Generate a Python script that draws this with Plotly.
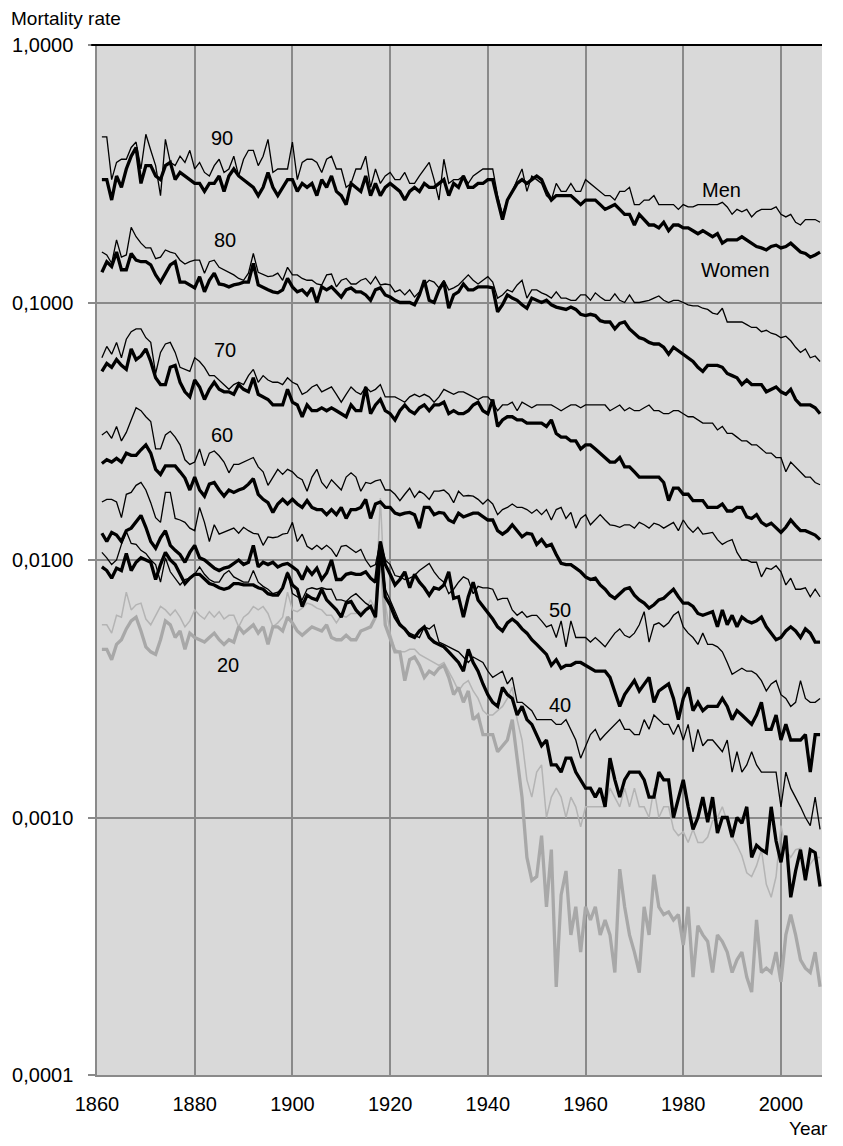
import math
import plotly.graph_objects as go

years = list(range(1861, 2009))

men_90 = [
    0.44, 0.44, 0.30, 0.35, 0.36, 0.36, 0.40, 0.42, 0.33, 0.45,
    0.39, 0.34, 0.26, 0.43, 0.35, 0.34, 0.37, 0.35, 0.39, 0.33,
    0.35, 0.32, 0.31, 0.34, 0.36, 0.32, 0.33, 0.37, 0.31, 0.36,
    0.39, 0.39, 0.34, 0.37, 0.43, 0.32, 0.33, 0.33, 0.33, 0.42,
    0.30, 0.35, 0.36, 0.36, 0.35, 0.32, 0.36, 0.37, 0.33, 0.33,
    0.28, 0.29, 0.33, 0.33, 0.37, 0.28, 0.33, 0.29, 0.31, 0.32,
    0.30, 0.30, 0.32, 0.29, 0.29, 0.31, 0.33, 0.35, 0.30, 0.25,
    0.36, 0.29, 0.30, 0.30, 0.31, 0.29, 0.31, 0.32, 0.33, 0.33,
    0.33, 0.26, 0.22, 0.25, 0.27, 0.30, 0.33, 0.27, 0.31, 0.30,
    0.29, 0.26, 0.25, 0.29, 0.27, 0.27, 0.29, 0.27, 0.27, 0.30,
    0.29, 0.28, 0.27, 0.26, 0.26, 0.25, 0.27, 0.27, 0.28, 0.24,
    0.24, 0.25, 0.25, 0.26, 0.24, 0.24, 0.24, 0.24, 0.23, 0.24,
    0.235, 0.235, 0.24, 0.24, 0.24, 0.24, 0.24, 0.245, 0.235, 0.22,
    0.23, 0.225, 0.23, 0.215, 0.225, 0.23, 0.23, 0.23, 0.235, 0.22,
    0.215, 0.22, 0.205, 0.20, 0.21, 0.21, 0.21, 0.205,
]

women_90 = [
    0.30, 0.30, 0.25, 0.31, 0.28, 0.33, 0.37, 0.40, 0.29, 0.34,
    0.34, 0.31, 0.30, 0.34, 0.35, 0.30, 0.32, 0.31, 0.30, 0.29,
    0.29, 0.27, 0.29, 0.29, 0.31, 0.27, 0.31, 0.33, 0.31, 0.30,
    0.29, 0.28, 0.26, 0.28, 0.32, 0.28, 0.26, 0.28, 0.30, 0.30,
    0.27, 0.29, 0.28, 0.29, 0.26, 0.30, 0.28, 0.31, 0.27, 0.26,
    0.24, 0.29, 0.28, 0.27, 0.31, 0.26, 0.29, 0.26, 0.28, 0.29,
    0.28, 0.27, 0.25, 0.27, 0.28, 0.27, 0.29, 0.28, 0.28, 0.29,
    0.30, 0.26, 0.29, 0.28, 0.31, 0.28, 0.28, 0.29, 0.29, 0.30,
    0.30, 0.25, 0.21, 0.25, 0.27, 0.29, 0.30, 0.29, 0.30, 0.31,
    0.30, 0.27, 0.25, 0.26, 0.26, 0.26, 0.26, 0.25, 0.24, 0.25,
    0.25, 0.25, 0.24, 0.23, 0.235, 0.24, 0.23, 0.22, 0.22, 0.20,
    0.22, 0.21, 0.20, 0.20, 0.195, 0.205, 0.19, 0.20, 0.20, 0.195,
    0.195, 0.19, 0.185, 0.19, 0.185, 0.18, 0.185, 0.17, 0.175, 0.175,
    0.175, 0.18, 0.175, 0.17, 0.165, 0.163, 0.16, 0.165, 0.167, 0.163,
    0.165, 0.17, 0.163, 0.157, 0.155, 0.15, 0.153, 0.157,
]

men_80 = [
    0.157, 0.153, 0.142, 0.175, 0.15, 0.153, 0.196, 0.18, 0.17, 0.163,
    0.163, 0.148, 0.15, 0.16, 0.157, 0.155, 0.146, 0.141, 0.144, 0.146,
    0.146, 0.13, 0.144, 0.146, 0.137, 0.134, 0.131, 0.128, 0.124, 0.122,
    0.13, 0.155, 0.131, 0.128, 0.126, 0.127, 0.13, 0.122, 0.137, 0.128,
    0.128, 0.124, 0.122, 0.122, 0.118, 0.117, 0.128, 0.129, 0.115, 0.122,
    0.124, 0.118, 0.118, 0.122, 0.124, 0.118, 0.126, 0.117, 0.118, 0.117,
    0.11, 0.112, 0.107, 0.112, 0.105, 0.11, 0.117, 0.122, 0.12, 0.114,
    0.122, 0.112, 0.114, 0.117, 0.122, 0.128, 0.122, 0.118, 0.122, 0.126,
    0.12, 0.104, 0.107, 0.112, 0.11, 0.117, 0.122, 0.104, 0.112, 0.112,
    0.109, 0.107, 0.104, 0.11, 0.104, 0.104, 0.102, 0.102, 0.107, 0.107,
    0.102, 0.109, 0.105, 0.102, 0.102, 0.108, 0.102, 0.10, 0.107, 0.10,
    0.10, 0.101, 0.102, 0.104, 0.106, 0.102, 0.10, 0.102, 0.102, 0.10,
    0.098, 0.097, 0.097, 0.095, 0.094, 0.091, 0.09, 0.095, 0.084, 0.084,
    0.084, 0.084, 0.082, 0.08, 0.08, 0.077, 0.078, 0.076, 0.075, 0.073,
    0.074, 0.071, 0.067, 0.064, 0.066, 0.061, 0.062, 0.059,
]

women_80 = [
    0.131, 0.144, 0.138, 0.157, 0.134, 0.134, 0.155, 0.146, 0.144, 0.144,
    0.14, 0.128, 0.12, 0.13, 0.14, 0.144, 0.12, 0.12, 0.117, 0.114,
    0.126, 0.11, 0.122, 0.13, 0.118, 0.117, 0.115, 0.117, 0.118, 0.12,
    0.12, 0.142, 0.117, 0.114, 0.112, 0.11, 0.109, 0.112, 0.124, 0.115,
    0.11, 0.112, 0.107, 0.114, 0.10, 0.115, 0.112, 0.115, 0.11, 0.105,
    0.112, 0.114, 0.11, 0.11, 0.107, 0.102, 0.112, 0.114, 0.107, 0.105,
    0.102, 0.10, 0.10, 0.10, 0.098, 0.107, 0.122, 0.102, 0.10, 0.112,
    0.12, 0.095, 0.107, 0.11, 0.118, 0.112, 0.112, 0.115, 0.115, 0.115,
    0.114, 0.092, 0.098, 0.107, 0.104, 0.102, 0.098, 0.095, 0.104, 0.102,
    0.10, 0.102, 0.098, 0.096, 0.095, 0.094, 0.096, 0.094, 0.09, 0.089,
    0.09, 0.089, 0.085, 0.084, 0.084, 0.079, 0.083, 0.084, 0.079, 0.076,
    0.073, 0.072, 0.07, 0.069, 0.069, 0.067, 0.063, 0.067, 0.065, 0.063,
    0.061, 0.059, 0.056, 0.054, 0.057, 0.057, 0.057, 0.056, 0.053, 0.052,
    0.051, 0.048, 0.05, 0.048, 0.048, 0.048, 0.045, 0.046, 0.047, 0.045,
    0.044, 0.046, 0.042, 0.04, 0.04, 0.04, 0.039, 0.037,
]

men_70 = [
    0.061, 0.0675, 0.063, 0.07, 0.061, 0.072, 0.077, 0.079, 0.079, 0.073,
    0.07, 0.053, 0.064, 0.069, 0.07, 0.064, 0.056, 0.055, 0.054, 0.061,
    0.059, 0.056, 0.052, 0.052, 0.05, 0.048, 0.046, 0.048, 0.049, 0.048,
    0.052, 0.055, 0.049, 0.052, 0.05, 0.049, 0.049, 0.048, 0.051, 0.049,
    0.048, 0.044, 0.045, 0.047, 0.048, 0.045, 0.046, 0.047, 0.044, 0.041,
    0.044, 0.047, 0.045, 0.044, 0.047, 0.045, 0.046, 0.048, 0.043, 0.043,
    0.043, 0.042, 0.041, 0.043, 0.044, 0.043, 0.044, 0.043, 0.041, 0.043,
    0.046, 0.045, 0.044, 0.045, 0.045, 0.044, 0.043, 0.042, 0.043, 0.043,
    0.041, 0.038, 0.04, 0.04, 0.041, 0.038, 0.041, 0.04, 0.039, 0.04,
    0.04, 0.04, 0.04, 0.039, 0.038, 0.039, 0.04, 0.04, 0.039, 0.04,
    0.04, 0.04, 0.04, 0.04, 0.038, 0.039, 0.04, 0.038, 0.039, 0.038,
    0.038, 0.039, 0.04, 0.038, 0.038, 0.037, 0.037, 0.038, 0.038, 0.037,
    0.036, 0.036, 0.035, 0.034, 0.034, 0.034, 0.032, 0.033, 0.031, 0.031,
    0.03, 0.029, 0.029, 0.028, 0.028, 0.027, 0.026, 0.026, 0.025, 0.025,
    0.022, 0.024, 0.023, 0.022, 0.021, 0.021, 0.02, 0.0196,
]

women_70 = [
    0.054, 0.058, 0.056, 0.06, 0.057, 0.055, 0.066, 0.06, 0.062, 0.066,
    0.059, 0.051, 0.048, 0.048, 0.056, 0.057, 0.049, 0.045, 0.043, 0.05,
    0.047, 0.042, 0.046, 0.049, 0.046, 0.045, 0.045, 0.044, 0.048, 0.046,
    0.045, 0.051, 0.044, 0.043, 0.042, 0.04, 0.04, 0.04, 0.046, 0.041,
    0.04, 0.036, 0.04, 0.038, 0.038, 0.039, 0.038, 0.039, 0.038, 0.037,
    0.036, 0.04, 0.038, 0.038, 0.047, 0.037, 0.04, 0.042, 0.038, 0.037,
    0.035, 0.038, 0.04, 0.038, 0.037, 0.039, 0.04, 0.038, 0.04, 0.04,
    0.041, 0.037, 0.038, 0.037, 0.037, 0.038, 0.04, 0.041, 0.038, 0.037,
    0.042, 0.033, 0.035, 0.036, 0.036, 0.035, 0.035, 0.034, 0.034, 0.034,
    0.034, 0.033, 0.035, 0.031, 0.03, 0.03, 0.029, 0.029, 0.027, 0.028,
    0.028, 0.027, 0.026, 0.025, 0.024, 0.024, 0.025, 0.023, 0.023, 0.022,
    0.021, 0.021, 0.021, 0.021, 0.021, 0.02, 0.017, 0.019, 0.019, 0.018,
    0.018, 0.017, 0.017, 0.017, 0.016, 0.016, 0.016, 0.0165, 0.0155, 0.0155,
    0.016, 0.016, 0.0147, 0.0145, 0.015, 0.014, 0.0136, 0.0139, 0.0134, 0.0128,
    0.0134, 0.0143, 0.0136, 0.013, 0.013, 0.0127, 0.0125, 0.012,
]

men_60 = [
    0.0306, 0.0316, 0.0297, 0.033, 0.029, 0.0313, 0.035, 0.039, 0.038, 0.036,
    0.0345, 0.027, 0.027, 0.0306, 0.0316, 0.03, 0.028, 0.0245, 0.0235, 0.024,
    0.027, 0.0232, 0.026, 0.0265, 0.0254, 0.024, 0.0218, 0.0235, 0.0235, 0.024,
    0.0245, 0.025, 0.023, 0.022, 0.0195, 0.021, 0.0225, 0.0215, 0.0225, 0.022,
    0.021, 0.0205, 0.0185, 0.021, 0.0225, 0.02, 0.019, 0.0205, 0.0195, 0.0187,
    0.021, 0.0218, 0.021, 0.0185, 0.02, 0.0198, 0.0203, 0.0205, 0.0187, 0.0187,
    0.018, 0.017, 0.018, 0.019, 0.0175, 0.0185, 0.018, 0.0172, 0.0185, 0.0185,
    0.0187, 0.018, 0.0167, 0.0185, 0.0177, 0.0178, 0.0177, 0.0172, 0.0165, 0.0172,
    0.0165, 0.015, 0.0157, 0.016, 0.0165, 0.016, 0.016, 0.0157, 0.0152, 0.0157,
    0.015, 0.0157, 0.0143, 0.0157, 0.016, 0.0145, 0.0153, 0.0133, 0.0145, 0.015,
    0.0137, 0.0143, 0.015, 0.0143, 0.0137, 0.0136, 0.0134, 0.0137, 0.0137, 0.0133,
    0.014, 0.0137, 0.0133, 0.0139, 0.0137, 0.0133, 0.0136, 0.014, 0.013, 0.0143,
    0.0134, 0.0128, 0.0134, 0.0126, 0.0127, 0.0128, 0.012, 0.0115, 0.0118, 0.012,
    0.0107, 0.01, 0.01, 0.0098, 0.0098, 0.0086, 0.0093, 0.0092, 0.0095, 0.009,
    0.008, 0.0085, 0.0077, 0.0077, 0.0078, 0.0072, 0.0077, 0.0072,
]

women_60 = [
    0.0237, 0.0245, 0.024, 0.0248, 0.024, 0.026, 0.0255, 0.0255, 0.0268, 0.028,
    0.026, 0.0225, 0.0215, 0.0232, 0.0232, 0.0232, 0.022, 0.0208, 0.0187, 0.021,
    0.0187, 0.0177, 0.0197, 0.02, 0.0187, 0.0177, 0.0187, 0.0183, 0.0187, 0.019,
    0.0197, 0.0207, 0.018, 0.0172, 0.0167, 0.0153, 0.0165, 0.0172, 0.0165, 0.0172,
    0.0165, 0.016, 0.017, 0.016, 0.0157, 0.0157, 0.015, 0.0157, 0.015, 0.016,
    0.0145, 0.0157, 0.0157, 0.016, 0.0172, 0.0145, 0.0165, 0.0168, 0.016, 0.016,
    0.0152, 0.015, 0.0152, 0.0153, 0.015, 0.0133, 0.016, 0.016, 0.015, 0.0153,
    0.0152, 0.0143, 0.014, 0.0152, 0.0147, 0.015, 0.0152, 0.0152, 0.0147, 0.0143,
    0.0143, 0.013, 0.0126, 0.013, 0.0137, 0.013, 0.0123, 0.0127, 0.0126, 0.0115,
    0.012, 0.0113, 0.0115, 0.0105, 0.0097, 0.0096, 0.0096, 0.0093, 0.009, 0.0086,
    0.0084, 0.0085, 0.008, 0.0077, 0.0073, 0.0071, 0.0074, 0.0077, 0.0078, 0.0073,
    0.007, 0.0068, 0.0065, 0.0067, 0.007, 0.0071, 0.0074, 0.0077, 0.0072, 0.0068,
    0.0068, 0.0066, 0.0062, 0.0061, 0.0062, 0.0063, 0.0055, 0.0064, 0.0056, 0.0061,
    0.0055, 0.006, 0.0058, 0.0057, 0.0058, 0.006, 0.0055, 0.0052, 0.0049, 0.005,
    0.0053, 0.0055, 0.0053, 0.005, 0.0054, 0.0052, 0.0048, 0.0048,
]

men_50 = [
    0.0168, 0.0172, 0.0172, 0.0168, 0.0146, 0.018, 0.0183, 0.0195, 0.02, 0.0187,
    0.0167, 0.0146, 0.014, 0.0183, 0.0183, 0.0145, 0.0143, 0.014, 0.0133, 0.013,
    0.016, 0.014, 0.0118, 0.0137, 0.0126, 0.0128, 0.013, 0.0133, 0.0127, 0.0134,
    0.013, 0.0127, 0.0126, 0.0114, 0.0123, 0.0122, 0.0123, 0.0126, 0.0127, 0.014,
    0.0118, 0.0126, 0.0113, 0.011, 0.0114, 0.011, 0.0114, 0.011, 0.0103, 0.0113,
    0.0114, 0.011, 0.0107, 0.011, 0.01, 0.0094, 0.0096, 0.0118, 0.01, 0.0096,
    0.0087, 0.0086, 0.0084, 0.0085, 0.0087, 0.0091, 0.0094, 0.0097, 0.009, 0.0085,
    0.0082, 0.0074, 0.0077, 0.0082, 0.0086, 0.0084, 0.0074, 0.0079, 0.0078, 0.0078,
    0.0077, 0.007, 0.0071, 0.0071, 0.0064, 0.0061, 0.0063, 0.006, 0.0061, 0.0061,
    0.0058, 0.0055, 0.0056, 0.005, 0.0058, 0.0046, 0.0058, 0.005, 0.005, 0.005,
    0.0048, 0.005, 0.0048, 0.0046, 0.0049, 0.0052, 0.0054, 0.0051, 0.005, 0.0052,
    0.0056, 0.0063, 0.0048, 0.0056, 0.0057, 0.0055, 0.0057, 0.0061, 0.0063, 0.0055,
    0.0052, 0.005, 0.0047, 0.0052, 0.0047, 0.0047, 0.0046, 0.0044, 0.004, 0.0036,
    0.0037, 0.0038, 0.0037, 0.0037, 0.0036, 0.0034, 0.0031, 0.0033, 0.0034, 0.003,
    0.0029, 0.0027, 0.0028, 0.0034, 0.0029, 0.0028, 0.0028, 0.0029,
]

women_50 = [
    0.0127, 0.0118, 0.0128, 0.0125, 0.0118, 0.013, 0.0133, 0.014, 0.0149, 0.0134,
    0.0118, 0.0111, 0.0122, 0.013, 0.0114, 0.0109, 0.0105, 0.0098, 0.0107, 0.0114,
    0.0102, 0.01, 0.0096, 0.0093, 0.0091, 0.0093, 0.0094, 0.0097, 0.01, 0.0096,
    0.0098, 0.0114, 0.0094, 0.0098, 0.0096, 0.0098, 0.0094, 0.0096, 0.0097, 0.0094,
    0.0091, 0.0084, 0.0093, 0.0088, 0.0093, 0.0084, 0.0089, 0.01, 0.0084, 0.0084,
    0.0088, 0.0089, 0.0088, 0.0088, 0.009, 0.0085, 0.0082, 0.0118, 0.0096, 0.0088,
    0.008, 0.0084, 0.009, 0.0078, 0.0088, 0.0082, 0.0078, 0.0073, 0.0078, 0.0077,
    0.008, 0.009, 0.0071, 0.0072, 0.006, 0.0072, 0.0082, 0.007, 0.0066, 0.0063,
    0.0059, 0.0055, 0.0053, 0.0057, 0.0059, 0.0057, 0.0054, 0.0052, 0.0049, 0.0047,
    0.0045, 0.0043, 0.0039, 0.0041, 0.0038, 0.0039, 0.0039, 0.004, 0.004, 0.0039,
    0.0038, 0.0037, 0.0037, 0.0037, 0.0035, 0.0031, 0.0027, 0.003, 0.0032, 0.0034,
    0.0031, 0.0033, 0.0035, 0.0028, 0.0031, 0.0032, 0.0033, 0.0029, 0.0024, 0.0029,
    0.0032, 0.0026, 0.0028, 0.0026, 0.0027, 0.0027, 0.0027, 0.0029, 0.0027, 0.0024,
    0.0026, 0.0025, 0.0024, 0.0023, 0.0025, 0.0028, 0.0022, 0.0022, 0.0025, 0.002,
    0.0023, 0.002, 0.002, 0.002, 0.0021, 0.0015, 0.0021, 0.0021,
]

men_40 = [
    0.0107, 0.0102, 0.0096, 0.01, 0.0115, 0.0129, 0.0116, 0.0115, 0.0109, 0.0106,
    0.01, 0.0096, 0.0082, 0.0102, 0.009, 0.0085, 0.008, 0.0084, 0.0085, 0.0088,
    0.0094, 0.0088, 0.0084, 0.0082, 0.0082, 0.0088, 0.0091, 0.0086, 0.0084, 0.0082,
    0.0082, 0.0091, 0.0082, 0.0079, 0.0077, 0.0074, 0.0075, 0.0078, 0.009, 0.0074,
    0.0072, 0.007, 0.0077, 0.0078, 0.0077, 0.0078, 0.0077, 0.0077, 0.007, 0.007,
    0.0069, 0.0072, 0.0074, 0.0071, 0.0068, 0.0066, 0.006, 0.0117, 0.0077, 0.007,
    0.0063, 0.0057, 0.0054, 0.0052, 0.0051, 0.005, 0.0055, 0.0054, 0.0056, 0.0048,
    0.0047, 0.0046, 0.0045, 0.0044, 0.0042, 0.004, 0.0042, 0.0041, 0.004, 0.0037,
    0.0035, 0.0036, 0.0037, 0.0033, 0.0035, 0.0028, 0.0028, 0.0027, 0.0026, 0.0024,
    0.0024, 0.0024, 0.0024, 0.0023, 0.0023, 0.0024, 0.0022, 0.002, 0.0017, 0.0019,
    0.0021, 0.0022, 0.002, 0.0021, 0.0022, 0.0023, 0.0024, 0.0022, 0.0022, 0.0021,
    0.0021, 0.0024, 0.0022, 0.0025, 0.0024, 0.0023, 0.0023, 0.0021, 0.0023, 0.002,
    0.0023, 0.0018, 0.0022, 0.0019, 0.002, 0.002, 0.0019, 0.0018, 0.002, 0.0015,
    0.0018, 0.0015, 0.0016, 0.0018, 0.0016, 0.0015, 0.0015, 0.0015, 0.0015, 0.0011,
    0.0015, 0.0013, 0.0012, 0.0011, 0.001, 0.00093, 0.0012, 0.0009,
]

women_40 = [
    0.0094, 0.0091, 0.0085, 0.0093, 0.0091, 0.0106, 0.0091, 0.0098, 0.0102, 0.01,
    0.0098, 0.0084, 0.0096, 0.0107, 0.01, 0.0096, 0.0088, 0.0081, 0.0085, 0.0088,
    0.0088, 0.0084, 0.0081, 0.008, 0.0078, 0.0077, 0.0078, 0.0081, 0.0081, 0.008,
    0.008, 0.008, 0.0078, 0.0077, 0.0074, 0.0073, 0.0073, 0.0078, 0.0089, 0.008,
    0.0077, 0.0066, 0.0073, 0.0071, 0.007, 0.0077, 0.007, 0.0067, 0.0064, 0.006,
    0.0068, 0.0069, 0.0064, 0.0061, 0.0064, 0.0066, 0.006, 0.0115, 0.0072, 0.0067,
    0.006, 0.0056, 0.0054, 0.0051, 0.005, 0.0053, 0.0055, 0.005, 0.0048, 0.0047,
    0.0046, 0.0044, 0.0042, 0.004, 0.0037, 0.0045, 0.004, 0.0037, 0.0033, 0.003,
    0.0028, 0.0027, 0.0032, 0.003, 0.0029, 0.0025, 0.0027, 0.0024, 0.0023, 0.0021,
    0.0019, 0.002, 0.0016, 0.0016, 0.0015, 0.0017, 0.0017, 0.0015, 0.0014, 0.0013,
    0.0013, 0.0012, 0.0013, 0.0011, 0.0017, 0.0014, 0.0012, 0.0014, 0.0015, 0.0015,
    0.0015, 0.0014, 0.0012, 0.0012, 0.0015, 0.0014, 0.0014, 0.001, 0.0012, 0.0014,
    0.0011, 0.0009, 0.001, 0.0012, 0.00096, 0.0012, 0.00087, 0.001, 0.001, 0.00084,
    0.001, 0.00095, 0.0011, 0.0007, 0.00078, 0.00075, 0.00073, 0.0011, 0.00081, 0.00067,
    0.00085, 0.00049, 0.00062, 0.00075, 0.00057, 0.00075, 0.00073, 0.00054,
]

men_20 = [
    0.0056, 0.0056, 0.0052, 0.0061, 0.006, 0.0075, 0.0064, 0.0067, 0.0068, 0.0059,
    0.0056, 0.0061, 0.0066, 0.0064, 0.0061, 0.0064, 0.006, 0.0055, 0.0058, 0.0064,
    0.0061, 0.0059, 0.0063, 0.006, 0.0063, 0.0059, 0.0061, 0.0061, 0.0055, 0.006,
    0.0062, 0.0066, 0.0064, 0.0066, 0.0062, 0.0055, 0.0057, 0.006, 0.0075, 0.0064,
    0.0063, 0.0065, 0.0068, 0.0067, 0.0065, 0.0064, 0.0061, 0.0061, 0.0057, 0.0061,
    0.006, 0.0062, 0.0062, 0.0063, 0.0064, 0.007, 0.0064, 0.0174, 0.0068, 0.0052,
    0.0045, 0.0044, 0.0044, 0.0045, 0.0045, 0.0043, 0.0042, 0.0041, 0.004, 0.0039,
    0.004, 0.0037, 0.0034, 0.0031, 0.0033, 0.0034, 0.0031, 0.0029, 0.0026, 0.0025,
    0.0025, 0.0026, 0.0027, 0.0029, 0.0032, 0.0024, 0.002, 0.0014, 0.0012, 0.0015,
    0.0016, 0.001, 0.0012, 0.0013, 0.0012, 0.001, 0.0012, 0.0011, 0.00092, 0.0011,
    0.0011, 0.0011, 0.0011, 0.0011, 0.0013, 0.0012, 0.0011, 0.0013, 0.0011, 0.0013,
    0.0011, 0.0011, 0.001, 0.0013, 0.001, 0.0011, 0.0011, 0.0009, 0.00085, 0.00088,
    0.0008, 0.0009, 0.0008, 0.0008, 0.00084, 0.00097, 0.001, 0.0011, 0.00097, 0.00084,
    0.00078, 0.00071, 0.00061, 0.00059, 0.00065, 0.00075, 0.00055, 0.00049, 0.00059, 0.00093,
    0.00075, 0.0007, 0.00075, 0.00076, 0.00059, 0.00066, 0.0007, 0.0007,
]

women_20 = [
    0.0045, 0.0045, 0.0041, 0.0047, 0.0049, 0.0054, 0.0058, 0.006, 0.0053, 0.0046,
    0.0044, 0.0043, 0.0049, 0.0058, 0.0056, 0.005, 0.0053, 0.0045, 0.0052, 0.005,
    0.0049, 0.0048, 0.005, 0.0052, 0.0049, 0.0047, 0.0049, 0.0048, 0.0055, 0.0052,
    0.0054, 0.0056, 0.0052, 0.0055, 0.0047, 0.0055, 0.0055, 0.0053, 0.006, 0.0057,
    0.0053, 0.0051, 0.0053, 0.0055, 0.0054, 0.0053, 0.0056, 0.005, 0.0049, 0.0049,
    0.0051, 0.0049, 0.0049, 0.0053, 0.0054, 0.0055, 0.006, 0.0113, 0.0056, 0.005,
    0.0044, 0.0044, 0.0034, 0.0041, 0.0042, 0.0039, 0.0035, 0.0037, 0.0036, 0.0038,
    0.0039, 0.0035, 0.003, 0.0032, 0.0028, 0.0031, 0.0024, 0.0025, 0.0021, 0.0021,
    0.0021, 0.0018, 0.0019, 0.002, 0.0024, 0.0017, 0.0012, 0.0007, 0.00057, 0.00059,
    0.00085, 0.00045, 0.00075, 0.00022, 0.0005, 0.00062, 0.00035, 0.00045, 0.0003, 0.00045,
    0.0004, 0.00045, 0.00035, 0.0004, 0.00035, 0.00025, 0.00063, 0.00045, 0.00035, 0.0003,
    0.00025, 0.00045, 0.00035, 0.0006, 0.00045, 0.00042, 0.00043, 0.0004, 0.00042, 0.00032,
    0.00045, 0.00024, 0.00038, 0.00035, 0.00033, 0.00025, 0.00035, 0.00033, 0.0003, 0.00025,
    0.00028, 0.0003, 0.00024, 0.00021, 0.0004, 0.00025, 0.00026, 0.00025, 0.0003, 0.00023,
    0.00035, 0.00042, 0.00035, 0.00028, 0.00026, 0.00025, 0.0003, 0.00022,
]

y_tick_values = [1, 0.1, 0.01, 0.001, 0.0001]
y_tick_labels = ["1,0000", "0,1000", "0,0100", "0,0010", "0,0001"]
x_tick_values = [1860, 1880, 1900, 1920, 1940, 1960, 1980, 2000]

# (text, year, rate) for the in-chart labels
series_labels = [
    ("90", 1885.6, 0.435),
    ("80", 1886.2, 0.175),
    ("70", 1886.2, 0.0654),
    ("60", 1885.6, 0.0306),
    ("50", 1954.8, 0.0064),
    ("40", 1954.8, 0.00274),
    ("20", 1886.8, 0.0039),
    ("Men", 1987.9, 0.273),
    ("Women", 1990.6, 0.134),
]

GRAY_THIN = "#b4b4b4"
GRAY_THICK = "#a8a8a8"
THIN = 1.3
THICK = 3.3

series = [
    ("Men 20", men_20, GRAY_THIN, 1.5),
    ("Women 20", women_20, GRAY_THICK, THICK),
    ("Men 40", men_40, "black", THIN),
    ("Women 40", women_40, "black", THICK),
    ("Men 50", men_50, "black", THIN),
    ("Women 50", women_50, "black", THICK),
    ("Men 60", men_60, "black", THIN),
    ("Women 60", women_60, "black", THICK),
    ("Men 70", men_70, "black", THIN),
    ("Women 70", women_70, "black", THICK),
    ("Men 80", men_80, "black", THIN),
    ("Women 80", women_80, "black", THICK),
    ("Men 90", men_90, "black", THIN),
    ("Women 90", women_90, "black", THICK),
]

bad = [(n, len(v)) for n, v, _, _ in series if len(v) != len(years)]
assert not bad, f"length mismatch: {bad} expected {len(years)}"

fig = go.Figure()
for name, vals, color, width in series:
    fig.add_trace(go.Scatter(
        x=years, y=vals, mode="lines", name=name,
        line=dict(color=color, width=width, shape="linear"),
        showlegend=False, hoverinfo="skip",
    ))

FONT = "Liberation Sans, Arial, sans-serif"
FS = 20

annotations = []
for text, yr, rate in series_labels:
    annotations.append(dict(
        x=yr, y=math.log10(rate), xref="x", yref="y", text=text,
        showarrow=False, font=dict(family=FONT, size=FS, color="black"),
        xanchor="center", yanchor="middle",
    ))
annotations.append(dict(
    x=-0.1215, y=1.026, xref="paper", yref="paper", text="Mortality rate",
    showarrow=False, xanchor="left", yanchor="middle",
    font=dict(family=FONT, size=19, color="black"),
))
annotations.append(dict(
    x=0.981, y=-0.052, xref="paper", yref="paper", text="Year",
    showarrow=False, xanchor="center", yanchor="middle",
    font=dict(family=FONT, size=19, color="black"),
))

# The page body adds an 8px margin; the plot area then spans x 97..822, y 45..1075.
fig.update_layout(
    width=835, height=1138,
    margin=dict(l=89, r=21, t=37, b=71, autoexpand=False),
    paper_bgcolor="white", plot_bgcolor="#d9d9d9",
    font=dict(family=FONT, size=FS, color="black"),
    showlegend=False,
    annotations=annotations,
    shapes=[dict(type="line", xref="paper", yref="paper",
                 x0=-0.008, x1=1, y0=1, y1=1,
                 line=dict(color="black", width=2))],
)
fig.update_xaxes(
    range=[1860, 2008.4], tickvals=x_tick_values,
    showgrid=True, gridcolor="#8a8a8a", gridwidth=1.5,
    showline=True, linecolor="#8a8a8a", linewidth=1.5,
    zeroline=False, ticks="", ticklabelstandoff=10,
    tickfont=dict(family=FONT, size=FS, color="black"),
)
fig.update_yaxes(
    type="log", range=[-4, 0],
    tickvals=y_tick_values, ticktext=y_tick_labels,
    showgrid=True, gridcolor="#8a8a8a", gridwidth=1.5,
    showline=True, linecolor="#8a8a8a", linewidth=1.5,
    zeroline=False, ticks="outside", ticklen=7, tickwidth=1.5, tickcolor="#8a8a8a",
    ticklabelstandoff=11,
    tickfont=dict(family=FONT, size=FS, color="black"),
)

fig.write_html("out.html")
